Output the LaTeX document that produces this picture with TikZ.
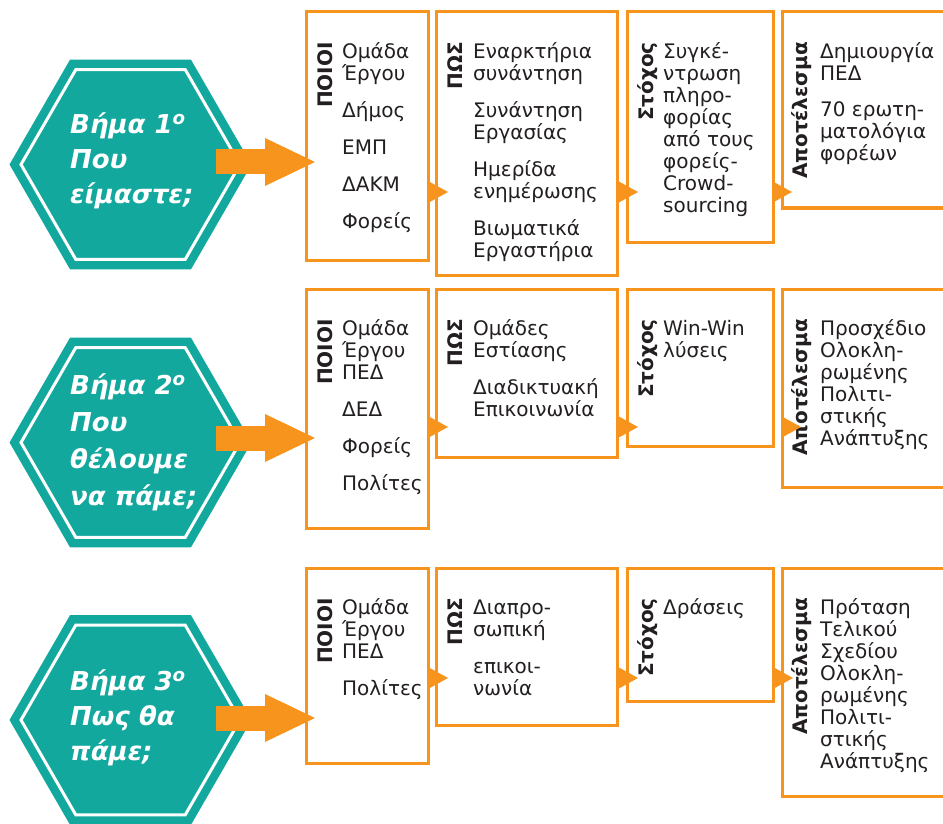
\documentclass[tikz,border=0pt]{standalone}
\usepackage{fontspec}
\setmainfont{DejaVu Sans}
\usetikzlibrary{arrows.meta,calc}
\definecolor{teal1}{HTML}{13A89E}
\definecolor{orng}{HTML}{F7941D}
\definecolor{txt}{HTML}{231F20}
\tikzset{
  hexfill/.style={fill=teal1, draw=none},
  hexline/.style={draw=white, line width=3pt, line join=miter},
  hextext/.style={anchor=north west, inner sep=0pt, align=left, text=white,
    font=\fontsize{26}{35}\selectfont\bfseries\itshape},
  obox/.style={draw=orng, line width=3pt, fill=white, inner sep=0pt, outer sep=0pt,
    anchor=north west},
  boxtext/.style={anchor=north west, inner sep=0pt, align=left, text=txt,
    font=\fontsize{20}{22}\selectfont},
  boxlabel/.style={anchor=base east, rotate=90, inner sep=0pt, text=txt,
    font=\fontsize{20}{22}\selectfont\bfseries},
  bigarr/.style={draw=orng, line width=25pt,
    -{Triangle[length=50pt,width=48pt,line width=0pt]}},
  smallarr/.style={draw=orng, line width=1pt,
    -{Triangle[length=20pt,width=22pt,line width=0pt]}},
}
\newcommand{\hexpoly}[3]{% name, radius, style
  \path[#3] ($(#1)+(0:#2)$) -- ($(#1)+(60:#2)$) -- ($(#1)+(120:#2)$)
    -- ($(#1)+(180:#2)$) -- ($(#1)+(240:#2)$) -- ($(#1)+(300:#2)$) -- cycle;}
\begin{document}
\begin{tikzpicture}[x=1pt,y=1pt]
\useasboundingbox (0,0) rectangle (943,-824);
\fill[white] (0,0) rectangle (943,-824);

% hexagons
\coordinate (h1) at (130.5,-164.5);
\coordinate (h2) at (130.5,-442.5);
\coordinate (h3) at (130.5,-720);
\foreach \h in {h1,h2,h3}{
  \hexpoly{\h}{121pt}{hexfill}
  \hexpoly{\h}{109.5pt}{hexline}
}
\node[hextext] (ht1) at ([shift={(-60.5,57.5)}]h1)
  {\rule{0pt}{26pt}Βήμα 1\textsuperscript{o}\\Που\\είμαστε;};
\node[hextext, font=\fontsize{26}{37}\selectfont\bfseries\itshape] (ht2)
  at ([shift={(-60.5,74.5)}]h2)
  {\rule{0pt}{26pt}Βήμα 2\textsuperscript{o}\\Που\\θέλουμε\\να πάμε;};
\node[hextext] (ht3) at ([shift={(-60.5,56)}]h3)
  {\rule{0pt}{26pt}Βήμα 3\textsuperscript{o}\\Πως θα\\πάμε;};

% row 1 boxes
\node[obox, minimum width=122pt, minimum height=248pt] (b11) at (306,-12) {};
\node[obox, minimum width=181pt, minimum height=263pt] (b12) at (436,-12) {};
\node[obox, minimum width=146pt, minimum height=230pt] (b13) at (627,-12) {};
\node[obox, minimum width=163pt, minimum height=196pt] (b14) at (782,-12) {};
% row 2 boxes
\node[obox, minimum width=122pt, minimum height=239pt] (b21) at (306,-289) {};
\node[obox, minimum width=181pt, minimum height=168pt] (b22) at (436,-289) {};
\node[obox, minimum width=146pt, minimum height=157pt] (b23) at (627,-289) {};
\node[obox, minimum width=163pt, minimum height=198pt] (b24) at (782,-289) {};
% row 3 boxes
\node[obox, minimum width=122pt, minimum height=195pt] (b31) at (306,-568) {};
\node[obox, minimum width=181pt, minimum height=157pt] (b32) at (436,-568) {};
\node[obox, minimum width=146pt, minimum height=133pt] (b33) at (627,-568) {};
\node[obox, minimum width=163pt, minimum height=228pt] (b34) at (782,-568) {};

% labels
\foreach \r in {1,2,3}{
  \node[boxlabel] (l\r1) at ([shift={(26,-30)}]b\r1.north west) {ΠΟΙΟΙ};
  \node[boxlabel] (l\r2) at ([shift={(26,-30)}]b\r2.north west) {ΠΩΣ};
  \node[boxlabel] (l\r3) at ([shift={(26,-30)}]b\r3.north west) {Στόχος};
  \node[boxlabel] (l\r4) at ([shift={(25,-30)}]b\r4.north west) {Αποτέλεσμα};
}

% row 1 texts
\node[boxtext] (x11) at ([shift={(36,-26)}]b11.north west)
  {\rule{0pt}{20pt}Ομάδα\\Έργου\\[15pt]Δήμος\\[15pt]ΕΜΠ\\[15pt]ΔΑΚΜ\\[15pt]Φορείς};
\node[boxtext] (x12) at ([shift={(37,-26)}]b12.north west)
  {\rule{0pt}{20pt}Εναρκτήρια\\συνάντηση\\[15pt]Συνάντηση\\Εργασίας\\[15pt]Ημερίδα\\ενημέρωσης\\[15pt]Βιωματικά\\Εργαστήρια};
\node[boxtext] (x13) at ([shift={(36,-26)}]b13.north west)
  {\rule{0pt}{20pt}Συγκέ-\\ντρωση\\πληρο-\\φορίας\\από τους\\φορείς-\\Crowd-\\sourcing};
\node[boxtext] (x14) at ([shift={(38,-26)}]b14.north west)
  {\rule{0pt}{20pt}Δημιουργία\\ΠΕΔ\\[14pt]70 ερωτη-\\ματολόγια\\φορέων};
% row 2 texts
\node[boxtext] (x21) at ([shift={(36,-26)}]b21.north west)
  {\rule{0pt}{20pt}Ομάδα\\Έργου\\ΠΕΔ\\[15pt]ΔΕΔ\\[15pt]Φορείς\\[15pt]Πολίτες};
\node[boxtext] (x22) at ([shift={(37,-26)}]b22.north west)
  {\rule{0pt}{20pt}Ομάδες\\Εστίασης\\[15pt]Διαδικτυακή\\Επικοινωνία};
\node[boxtext] (x23) at ([shift={(36,-26)}]b23.north west)
  {\rule{0pt}{20pt}Win-Win\\λύσεις};
\node[boxtext] (x24) at ([shift={(38,-26)}]b24.north west)
  {\rule{0pt}{20pt}Προσχέδιο\\Ολοκλη-\\ρωμένης\\Πολιτι-\\στικής\\Ανάπτυξης};
% row 3 texts
\node[boxtext] (x31) at ([shift={(36,-26)}]b31.north west)
  {\rule{0pt}{20pt}Ομάδα\\Έργου\\ΠΕΔ\\[15pt]Πολίτες};
\node[boxtext] (x32) at ([shift={(37,-26)}]b32.north west)
  {\rule{0pt}{20pt}Διαπρο-\\σωπική\\[15pt]επικοι-\\νωνία};
\node[boxtext] (x33) at ([shift={(36,-26)}]b33.north west)
  {\rule{0pt}{20pt}Δράσεις};
\node[boxtext] (x34) at ([shift={(38,-26)}]b34.north west)
  {\rule{0pt}{20pt}Πρόταση\\Τελικού\\Σχεδίου\\Ολοκλη-\\ρωμένης\\Πολιτι-\\στικής\\Ανάπτυξης};

% small connectors
\coordinate (t11) at (448,-192);
\coordinate (t12) at (638,-192);
\coordinate (t13) at (792,-192);
\coordinate (t21) at (448,-427);
\coordinate (t22) at (638,-427);
\coordinate (t23) at (801,-427);
\coordinate (t31) at (448,-678);
\coordinate (t32) at (638,-678);
\coordinate (t33) at (793,-678);
\draw[smallarr] (b11.east |- t11) -- (t11);
\draw[smallarr] (b12.east |- t12) -- (t12);
\draw[smallarr] (b13.east |- t13) -- (t13);
\draw[smallarr] (b21.east |- t21) -- (t21);
\draw[smallarr] (b22.east |- t22) -- (t22);
\draw[smallarr] (b24.west |- t23) -- (t23);
\draw[smallarr] (b31.east |- t31) -- (t31);
\draw[smallarr] (b32.east |- t32) -- (t32);
\draw[smallarr] (b33.east |- t33) -- (t33);

% big connectors
\coordinate (s1) at (216,-162);
\coordinate (s2) at (216,-438);
\coordinate (s3) at (216,-718);
\draw[bigarr] (s1) -- ([xshift=9pt]b11.west |- s1);
\draw[bigarr] (s2) -- ([xshift=9pt]b21.west |- s2);
\draw[bigarr] (s3) -- ([xshift=9pt]b31.west |- s3);
\end{tikzpicture}
\end{document}
